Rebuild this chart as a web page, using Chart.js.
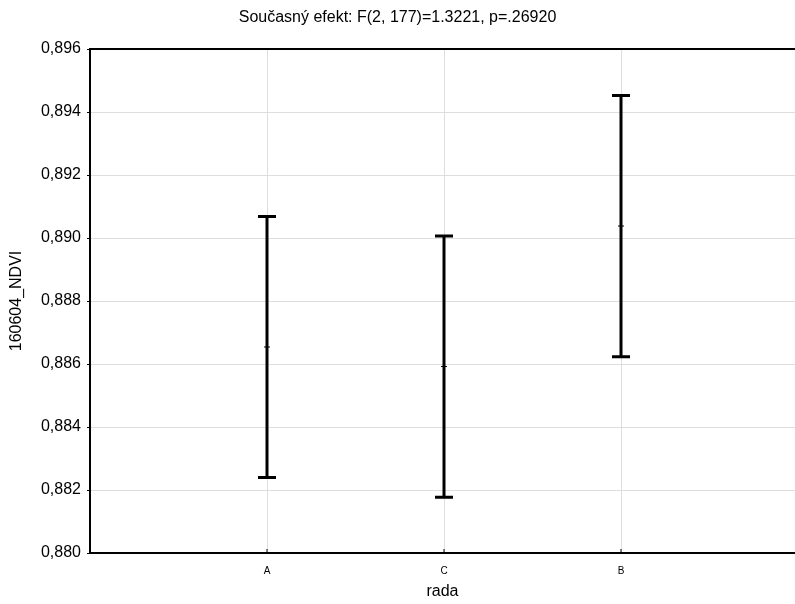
<!DOCTYPE html>
<html>
<head>
<meta charset="utf-8">
<script src="https://cdn.jsdelivr.net/npm/chart.js@4.4.1/dist/chart.umd.min.js"></script>
<style>
html,body{margin:0;padding:0;background:#fff;overflow:hidden;}
canvas{display:block;}
</style>
</head>
<body>
<canvas id="c" width="795" height="604"></canvas>
<script>
const categories = ['A', 'C', 'B'];
const means = [0.88654, 0.88592, 0.89038];
const upper = [0.89068, 0.89006, 0.89452];
const lower = [0.88240, 0.88177, 0.88623];
const yTicks = [0.880, 0.882, 0.884, 0.886, 0.888, 0.890, 0.892, 0.894, 0.896];
const titleText = 'Současný efekt: F(2, 177)=1.3221, p=.26920';
const xTitle = 'rada';
const yTitle = '160604_NDVI';

const FONT = '"Liberation Sans", Arial, sans-serif';

const errorBars = {
  id: 'errorBars',
  afterDatasetsDraw(chart) {
    const ctx = chart.ctx, xs = chart.scales.x, ys = chart.scales.y;
    const a = chart.chartArea;
    ctx.save();
    ctx.strokeStyle = '#000';
    categories.forEach((c, i) => {
      const x = xs.getPixelForValue(i + 1);
      // inward tick on the bottom axis
      ctx.lineWidth = 1;
      ctx.beginPath();
      ctx.moveTo(x, a.bottom); ctx.lineTo(x, a.bottom - 4);
      ctx.stroke();
      const yt = ys.getPixelForValue(upper[i]);
      const yb = ys.getPixelForValue(lower[i]);
      ctx.lineWidth = 3;
      ctx.beginPath();
      ctx.moveTo(x, yt); ctx.lineTo(x, yb);
      ctx.moveTo(x - 9, yt); ctx.lineTo(x + 9, yt);
      ctx.moveTo(x - 9, yb); ctx.lineTo(x + 9, yb);
      ctx.stroke();
      const ym = ys.getPixelForValue(means[i]);
      ctx.lineWidth = 1;
      ctx.beginPath();
      ctx.moveTo(x - 3, ym); ctx.lineTo(x + 3, ym);
      ctx.stroke();
    });
    // top frame line
    ctx.lineWidth = 2;
    ctx.beginPath();
    ctx.moveTo(a.left, a.top); ctx.lineTo(a.right, a.top);
    ctx.stroke();
    ctx.restore();
  }
};

new Chart(document.getElementById('c'), {
  type: 'scatter',
  data: {
    datasets: [{
      data: means.map((m, i) => ({x: i + 1, y: m})),
      pointRadius: 0,
      showLine: false
    }]
  },
  options: {
    responsive: false,
    animation: false,
    layout: {padding: {left: 0, right: 0, top: 0, bottom: 0}},
    plugins: {
      legend: {display: false},
      tooltip: {enabled: false},
      title: {
        display: true,
        text: titleText,
        color: '#000',
        font: {family: FONT, size: 16, weight: 'normal'},
        padding: {top: 8, bottom: 21.8}
      }
    },
    scales: {
      x: {
        type: 'linear',
        min: 0,
        max: 3.983,
        afterBuildTicks(s) { s.ticks = categories.map((c, i) => ({value: i + 1})); },
        afterFit(s) { s.height = 51; },
        ticks: {
          callback: (v) => categories[v - 1] || '',
          color: '#000',
          font: {family: FONT, size: 10},
          padding: 12,
          maxRotation: 0,
          autoSkip: false
        },
        grid: {color: '#dedede', lineWidth: 1, tickLength: 0, drawTicks: false},
        border: {color: '#000', width: 2},
        title: {
          display: true,
          text: xTitle,
          color: '#000',
          font: {family: FONT, size: 16},
          padding: {top: 0, bottom: 2.4}
        }
      },
      y: {
        min: 0.880,
        max: 0.896,
        afterBuildTicks(s) { s.ticks = yTicks.map(v => ({value: v})); },
        afterFit(s) { s.width = 90; },
        ticks: {
          callback: (v) => v.toFixed(3).replace('.', ','),
          color: '#000',
          font: {family: FONT, size: 16},
          padding: 6
        },
        grid: {color: '#dedede', lineWidth: 1, tickLength: 3, tickColor: '#000'},
        border: {color: '#000', width: 2},
        title: {
          display: true,
          text: yTitle,
          color: '#000',
          font: {family: FONT, size: 16},
          padding: {top: 7, bottom: 0}
        }
      }
    }
  },
  plugins: [errorBars]
});
</script>
</body>
</html>
